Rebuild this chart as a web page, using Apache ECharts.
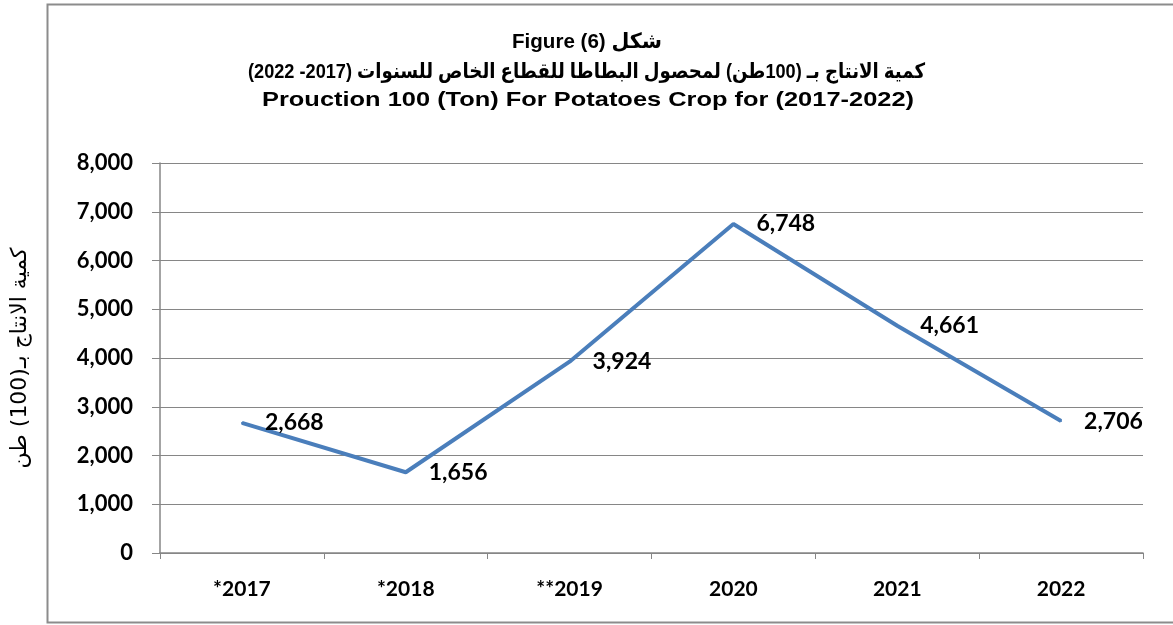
<!DOCTYPE html>
<html>
<head>
<meta charset="utf-8">
<script src="https://cdn.jsdelivr.net/npm/echarts@6/dist/echarts.min.js"></script>
<style>html,body{margin:0;padding:0;background:#fff}#c{width:1173px;height:625px}</style>
</head>
<body>
<div id="c"></div>
<script>
var categories = ['*2017', '*2018', '**2019', '2020', '2021', '2022'];
var production = [2668, 1656, 3924, 6748, 4661, 2706];
var yTicks = [0, 1000, 2000, 3000, 4000, 5000, 6000, 7000, 8000];

var titleLine1 = 'Figure (6) شكل';
var titleLine2 = 'كمية الانتاج بـ (100طن) لمحصول البطاطا للقطاع الخاص للسنوات (2017- 2022)';
var titleLine3 = 'Prouction 100 (Ton) For Potatoes Crop for (2017-2022)';
var yAxisName = 'كمية الانتاج بـ(100) طن';

var TITLE_FAMILY = '"Liberation Sans", Arial, "DejaVu Sans", sans-serif';
var TITLE_SIZE = 21;
var measureCtx = document.createElement('canvas').getContext('2d');
measureCtx.font = 'bold ' + TITLE_SIZE + 'px ' + TITLE_FAMILY;
function tw(s) { return measureCtx.measureText(s).width; }

function titleStyle(text) {
  return {
    text: text, align: 'center', verticalAlign: 'middle',
    fontFamily: TITLE_FAMILY, fontSize: TITLE_SIZE, fontWeight: 'bold', fill: '#000'
  };
}

var chart = echarts.init(document.getElementById('c'));
chart.setOption({
  backgroundColor: '#fff',
  animation: false,
  graphic: [
    {
      type: 'rect',
      shape: { x: 47.5, y: 4.5, width: 1200, height: 618 },
      style: { fill: 'none', stroke: '#8c8c8c', lineWidth: 2 },
      silent: true
    },
    { type: 'text', x: 587, y: 42, scaleX: 150 / tw(titleLine1), style: titleStyle(titleLine1), silent: true },
    { type: 'text', x: 586.5, y: 72, scaleX: 677 / tw(titleLine2), style: titleStyle(titleLine2), silent: true },
    { type: 'text', x: 588, y: 100, scaleX: 652 / tw(titleLine3), style: titleStyle(titleLine3), silent: true }
  ],
  grid: { left: 160, right: 30, top: 163, bottom: 72, containLabel: false },
  xAxis: {
    type: 'category',
    data: categories,
    boundaryGap: true,
    axisLine: { lineStyle: { color: '#868686', width: 1.5 } },
    axisTick: { show: true, length: 6, lineStyle: { color: '#868686' } },
    axisLabel: {
      margin: 26,
      fontFamily: 'Lato, Carlito, sans-serif',
      fontWeight: 'bold',
      fontSize: 21,
      color: '#000'
    }
  },
  yAxis: {
    type: 'value',
    min: yTicks[0],
    max: yTicks[yTicks.length - 1],
    interval: 1000,
    name: yAxisName,
    nameLocation: 'middle',
    nameRotate: 90,
    nameGap: 129,
    nameTextStyle: {
      fontFamily: 'DejaVu Sans, sans-serif',
      fontSize: 22,
      color: '#000'
    },
    axisLine: { show: true, lineStyle: { color: '#868686', width: 1.5 } },
    axisTick: { show: true, length: 8, lineStyle: { color: '#868686' } },
    splitLine: { show: true, lineStyle: { color: '#868686', width: 1.2 } },
    axisLabel: {
      margin: 27,
      fontFamily: 'Lato, Carlito, sans-serif',
      fontWeight: 'bold',
      fontSize: 22,
      color: '#000',
      formatter: function (v) { return v.toLocaleString('en-US'); }
    }
  },
  series: [{
    type: 'line',
    data: production,
    showSymbol: true,
    symbol: 'circle',
    symbolSize: 2,
    itemStyle: { color: '#4A7EBB' },
    lineStyle: { color: '#4A7EBB', width: 4 },
    label: {
      show: true,
      position: 'right',
      distance: 22,
      offset: [0, 2],
      fontFamily: 'Lato, Carlito, sans-serif',
      fontWeight: 'bold',
      fontSize: 23,
      color: '#000',
      formatter: function (p) { return p.value.toLocaleString('en-US'); }
    },
    labelLayout: { hideOverlap: false }
  }]
});
</script>
</body>
</html>
